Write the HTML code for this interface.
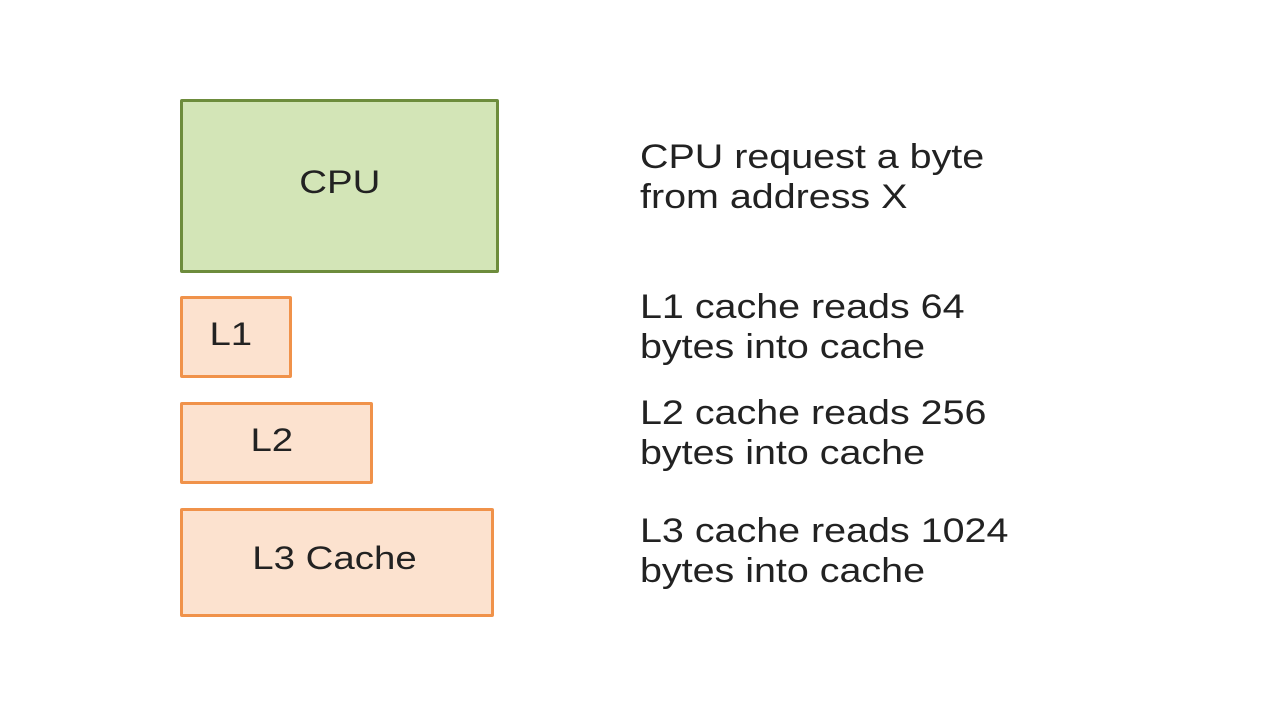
<!DOCTYPE html>
<html><head><style>
body{margin:0;width:1280px;height:720px;background:#fff;position:relative;overflow:hidden;font-family:"Liberation Sans",sans-serif;color:#222}
.b{position:absolute;box-sizing:border-box;display:flex;align-items:center;justify-content:center;font-size:32px;border-radius:2px}
.b span{display:inline-block;transform:scaleX(1.2)}
.g{background:#d3e5b7;border:3px solid #6d8c3c}
.o{background:#fce2cf;border:3px solid #f0924a}
.t{position:absolute;left:640px;font-size:34px;line-height:40px;color:#222;transform:scaleX(1.16);transform-origin:0 0;white-space:nowrap}
</style></head><body>
<div class="b g" style="left:180px;top:99px;width:319px;height:174px"><span style="margin-top:-8px">CPU</span></div>
<div class="b o" style="left:180px;top:296px;width:112px;height:82px"><span style="margin:-6px 10px 0 0">L1</span></div>
<div class="b o" style="left:180px;top:402px;width:193px;height:82px"><span style="margin:-6px 10px 0 0">L2</span></div>
<div class="b o" style="left:180px;top:508px;width:314px;height:109px"><span style="margin:-8px 6px 0 0">L3 Cache</span></div>
<div class="t" style="top:137px">CPU request a byte<br>from address X</div>
<div class="t" style="top:287px">L1 cache reads 64<br>bytes into cache</div>
<div class="t" style="top:393px">L2 cache reads 256<br>bytes into cache</div>
<div class="t" style="top:511px">L3 cache reads 1024<br>bytes into cache</div>
</body></html>
